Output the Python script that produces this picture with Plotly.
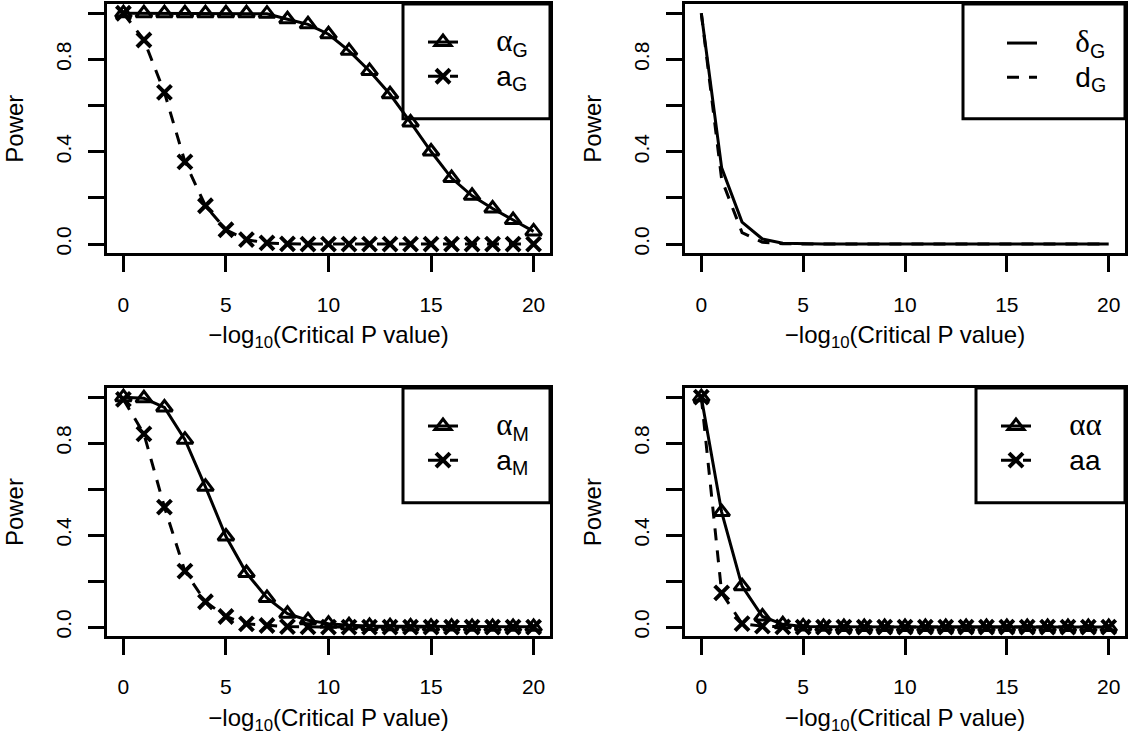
import plotly.graph_objects as go

# ---------------- data ----------------
x_vals = list(range(0, 21))

alpha_G = [1.0, 1.0, 1.0, 1.0, 1.0, 1.0, 1.0, 0.998, 0.974, 0.952, 0.909, 0.837, 0.750,
           0.649, 0.527, 0.401, 0.286, 0.209, 0.154, 0.104, 0.055]
a_G = [1.0, 0.884, 0.657, 0.356, 0.166, 0.062, 0.019, 0.005, 0.001, 0, 0, 0, 0, 0, 0, 0,
       0, 0, 0, 0, 0]

delta_G = [1.0, 0.33, 0.095, 0.022, 0.004, 0.001, 0, 0, 0, 0, 0, 0, 0, 0, 0, 0, 0, 0, 0, 0, 0]
d_G = [1.0, 0.28, 0.05, 0.008, 0.001, 0, 0, 0, 0, 0, 0, 0, 0, 0, 0, 0, 0, 0, 0, 0, 0]

alpha_M = [1.0, 0.995, 0.955, 0.815, 0.61, 0.394, 0.235, 0.127, 0.058, 0.03, 0.015, 0.008,
           0.005, 0.004, 0.003, 0.002, 0.002, 0.001, 0.001, 0.001, 0.001]
a_M = [0.99, 0.84, 0.522, 0.243, 0.11, 0.046, 0.014, 0.007, 0.002, 0.001, 0, 0, 0, 0, 0,
       0, 0, 0, 0, 0, 0]

alpha_alpha = [1.0, 0.5, 0.178, 0.046, 0.012, 0.003, 0.001, 0, 0, 0, 0, 0, 0, 0, 0, 0, 0,
               0, 0, 0, 0]
a_a = [1.0, 0.149, 0.015, 0.004, 0.001, 0, 0, 0, 0, 0, 0, 0, 0, 0, 0, 0, 0, 0, 0, 0, 0]

x_ticks = [0, 5, 10, 15, 20]
y_ticks = [0.0, 0.4, 0.8]
y_minor_step = 0.2
x_title = "\u2212log<sub>10</sub>(Critical P value)"
y_title = "Power"

PAD = "&nbsp;" * 5


def greek(s):
    return "<span style=\"font-family:'Liberation Serif';font-size:31px\">" + s + "</span>"


def label(main, sub=""):
    body = main + (f"<sub>{sub}</sub>" if sub else "")
    return PAD + "<span style=\"font-size:28px\">" + body + "</span>"


labels = [
    (label(greek("α"), "G"), label("a", "G")),
    (label(greek("δ"), "G"), label("d", "G")),
    (label(greek("α"), "M"), label("a", "M")),
    (label(greek("αα")), label("aa")),
]
series = [(alpha_G, a_G, True), (delta_G, d_G, False), (alpha_M, a_M, True), (alpha_alpha, a_a, True)]

# ---------------- layout geometry ----------------
W, H = 1130, 738
col_px = [(107, 550), (685, 1125)]
row_px = [(4, 254), (389, 638)]
legend_left_px = [403, 963, 403, 976]
legend_bottom_px = [119, 119, 504, 504]
legend_item_x_px = [423, 1002, 423, 996]
legend_item_top_px = [20, 21, 405, 405]

FONT = "Liberation Sans"
fig = go.Figure()

for i, ((ys, yd, markers), (ls, ld)) in enumerate(zip(series, labels)):
    n = i + 1
    xa = "x" if n == 1 else f"x{n}"
    ya = "y" if n == 1 else f"y{n}"
    leg = "legend" if n == 1 else f"legend{n}"
    fig.add_trace(go.Scatter(
        x=x_vals, y=ys, xaxis=xa, yaxis=ya, name=ls, legend=leg, legendgroup=f"s{n}",
        mode="lines+markers" if markers else "lines",
        line=dict(color="black", width=3),
        marker=dict(symbol="triangle-up-open", size=14, color="black",
                    line=dict(width=3, color="black")),
    ))
    fig.add_trace(go.Scatter(
        x=x_vals, y=yd, xaxis=xa, yaxis=ya, name=ld, legend=leg, legendgroup=f"d{n}",
        mode="lines+markers" if markers else "lines",
        line=dict(color="black", width=3, dash="12px,10px"),
        marker=dict(symbol="x-thin", size=14, color="black",
                    line=dict(width=4, color="black")),
    ))

    r, c = divmod(i, 2)
    x0, x1 = col_px[c]
    yt, yb = row_px[r]
    sfx = "" if n == 1 else str(n)
    fig.layout["xaxis" + sfx] = dict(
        domain=[x0 / W, x1 / W], anchor=ya, range=[-0.8, 20.8],
        tickvals=x_ticks, ticks="outside", ticklen=16, tickwidth=3, tickcolor="black",
        showline=True, mirror=True, linewidth=3, linecolor="black",
        showgrid=False, zeroline=False, ticklabelstandoff=14,
        tickfont=dict(family=FONT, size=21, color="black"),
        title=dict(text=x_title, font=dict(family=FONT, size=24, color="black"), standoff=12),
    )
    fig.layout["yaxis" + sfx] = dict(
        domain=[1 - yb / H, 1 - yt / H], anchor=xa, range=[-0.04, 1.04],
        tickmode="array", tickvals=y_ticks, tickformat=".1f", tickangle=-90,
        ticks="outside", ticklen=16, tickwidth=3, tickcolor="black",
        minor=dict(dtick=y_minor_step, tick0=0, ticks="outside", ticklen=16, tickwidth=3,
                   tickcolor="black", showgrid=False),
        showline=True, mirror=True, linewidth=3, linecolor="black",
        showgrid=False, zeroline=False, ticklabelstandoff=9,
        tickfont=dict(family=FONT, size=21, color="black"),
        title=dict(text=y_title, font=dict(family=FONT, size=24, color="black"), standoff=22),
    )
    # legend box
    lx = (legend_left_px[i] - x0) / (x1 - x0)
    ly = (yb - legend_bottom_px[i]) / (yb - yt)
    fig.add_shape(type="rect", xref=f"{xa} domain", yref=f"{ya} domain",
                  x0=lx, x1=1, y0=ly, y1=1, line=dict(color="black", width=3),
                  fillcolor="rgba(0,0,0,0)")
    fig.layout[leg] = dict(
        x=legend_item_x_px[i] / W, y=1 - legend_item_top_px[i] / H,
        xanchor="left", yanchor="top",
        bgcolor="rgba(0,0,0,0)", borderwidth=0, tracegroupgap=0,
        font=dict(family=FONT, size=24, color="black"),
    )

fig.update_layout(
    width=W, height=H, margin=dict(l=0, r=0, t=0, b=0),
    paper_bgcolor="white", plot_bgcolor="white", showlegend=True,
    font=dict(family=FONT, color="black"),
)
fig.write_html("out.html")
